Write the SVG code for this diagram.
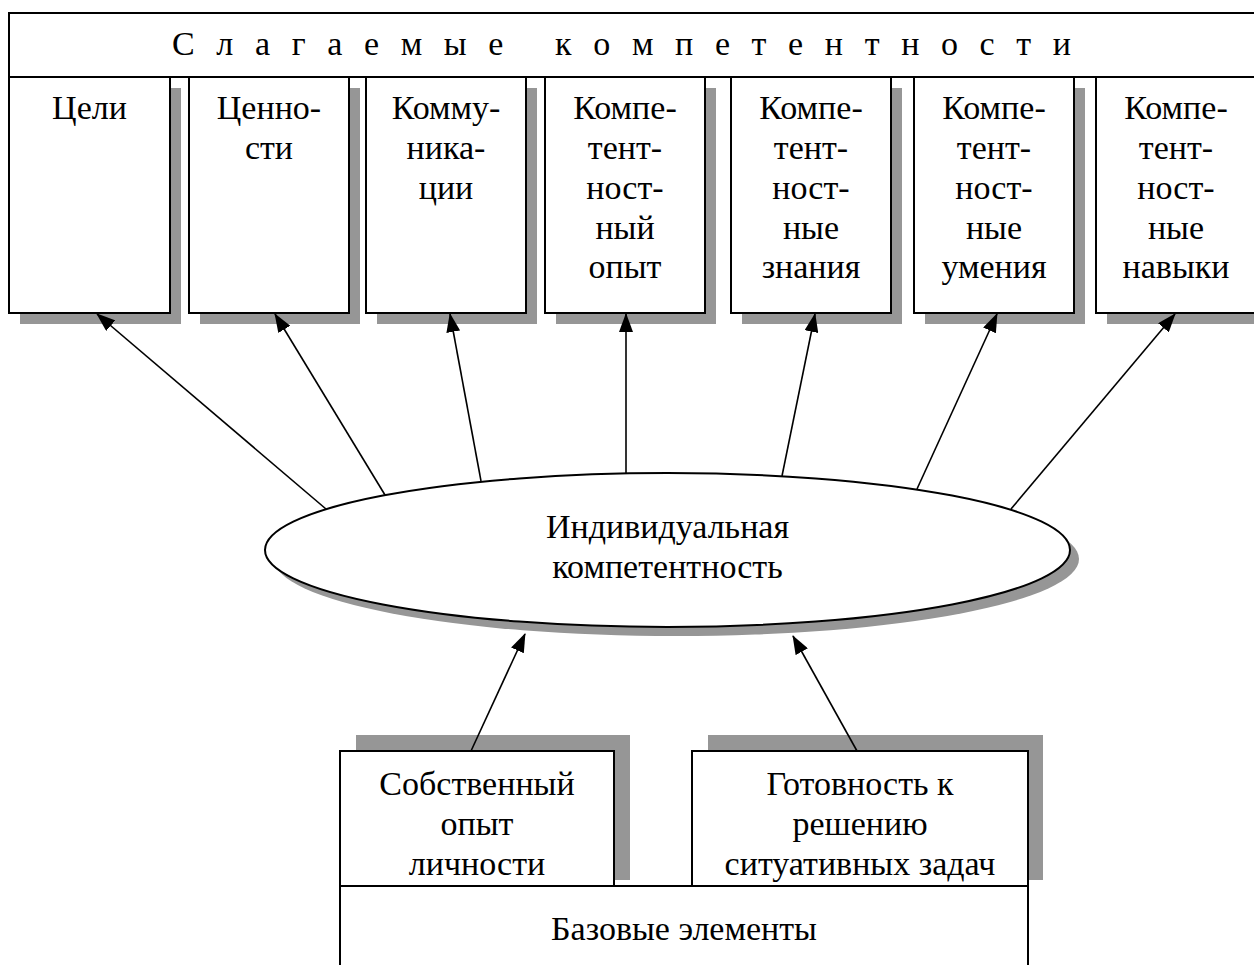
<svg xmlns="http://www.w3.org/2000/svg" width="1254" height="965" viewBox="0 0 1254 965">
<style>
.box{fill:#fff;stroke:#000;stroke-width:2}
.sh{fill:#969696;stroke:none}
.t{font-family:"Liberation Serif","Times New Roman",serif;font-size:34px;fill:#000;text-anchor:middle}
.ln{stroke:#000;stroke-width:1.6;fill:none;marker-end:url(#ah)}
</style>
<defs>
<marker id="ah" markerWidth="19" markerHeight="14" refX="18" refY="7" orient="auto" markerUnits="userSpaceOnUse">
<path d="M0,0 L19,7 L0,14 z" fill="#000"/>
</marker>
</defs>
<rect width="1254" height="965" fill="#fff"/>

<g id="header">
<rect class="box" x="9" y="13" width="1260" height="64"/>
<text class="t" x="172" y="55" style="text-anchor:start;white-space:pre" xml:space="preserve" textLength="899" lengthAdjust="spacing">С л а г а е м ы е   к о м п е т е н т н о с т и</text>
</g>

<g id="box-celi">
<rect class="sh" x="20" y="88" width="161" height="236"/>
<rect class="box" x="9" y="77" width="161" height="236"/>
<text class="t" x="89.5" y="119">Цели</text>
</g>
<g id="box-cennosti">
<rect class="sh" x="200" y="88" width="160" height="236"/>
<rect class="box" x="189" y="77" width="160" height="236"/>
<text class="t" x="269" y="119">Ценно-</text>
<text class="t" x="269" y="159">сти</text>
</g>
<g id="box-kommunikacii">
<rect class="sh" x="377" y="88" width="160" height="236"/>
<rect class="box" x="366" y="77" width="160" height="236"/>
<text class="t" x="446" y="119">Комму-</text>
<text class="t" x="446" y="159">ника-</text>
<text class="t" x="446" y="199">ции</text>
</g>
<g id="box-opyt">
<rect class="sh" x="556" y="88" width="160" height="236"/>
<rect class="box" x="545" y="77" width="160" height="236"/>
<text class="t" x="625" y="119">Компе-</text>
<text class="t" x="625" y="159">тент-</text>
<text class="t" x="625" y="199">ност-</text>
<text class="t" x="625" y="239">ный</text>
<text class="t" x="625" y="278">опыт</text>
</g>
<g id="box-znaniya">
<rect class="sh" x="742" y="88" width="160" height="236"/>
<rect class="box" x="731" y="77" width="160" height="236"/>
<text class="t" x="811" y="119">Компе-</text>
<text class="t" x="811" y="159">тент-</text>
<text class="t" x="811" y="199">ност-</text>
<text class="t" x="811" y="239">ные</text>
<text class="t" x="811" y="278">знания</text>
</g>
<g id="box-umeniya">
<rect class="sh" x="925" y="88" width="160" height="236"/>
<rect class="box" x="914" y="77" width="160" height="236"/>
<text class="t" x="994" y="119">Компе-</text>
<text class="t" x="994" y="159">тент-</text>
<text class="t" x="994" y="199">ност-</text>
<text class="t" x="994" y="239">ные</text>
<text class="t" x="994" y="278">умения</text>
</g>
<g id="box-navyki">
<rect class="sh" x="1107" y="88" width="160" height="236"/>
<rect class="box" x="1096" y="77" width="160" height="236"/>
<text class="t" x="1176" y="119">Компе-</text>
<text class="t" x="1176" y="159">тент-</text>
<text class="t" x="1176" y="199">ност-</text>
<text class="t" x="1176" y="239">ные</text>
<text class="t" x="1176" y="278">навыки</text>
</g>

<g id="ellipse-individ">
<ellipse class="sh" cx="676.5" cy="559" rx="402.5" ry="77"/>
<ellipse class="box" cx="667.5" cy="550" rx="402.5" ry="77"/>
<text class="t" x="667.5" y="538">Индивидуальная</text>
<text class="t" x="667.5" y="578">компетентность</text>
</g>

<g id="box-bazovye">
<rect class="box" x="340" y="886" width="688" height="110"/>
<text class="t" x="684" y="940">Базовые элементы</text>
</g>
<g id="box-sobstvenny">
<rect class="sh" x="356" y="735" width="274" height="145"/>
<rect class="box" x="340" y="751" width="274" height="135"/>
<text class="t" x="477" y="795">Собственный</text>
<text class="t" x="477" y="835">опыт</text>
<text class="t" x="477" y="875">личности</text>
</g>
<g id="box-gotovnost">
<rect class="sh" x="708" y="735" width="335" height="145"/>
<rect class="box" x="692" y="751" width="336" height="135"/>
<text class="t" x="860" y="795">Готовность к</text>
<text class="t" x="860" y="835">решению</text>
<text class="t" x="860" y="875">ситуативных задач</text>
</g>

<g id="connectors">
<line class="ln" x1="326" y1="509" x2="97" y2="314"/>
<line class="ln" x1="385" y1="495" x2="275" y2="314"/>
<line class="ln" x1="481" y1="481" x2="450" y2="314"/>
<line class="ln" x1="626" y1="473" x2="626" y2="314"/>
<line class="ln" x1="782" y1="476" x2="815" y2="314"/>
<line class="ln" x1="917" y1="489" x2="997" y2="314"/>
<line class="ln" x1="1011" y1="509" x2="1175" y2="314"/>
<line class="ln" x1="471" y1="751" x2="525" y2="634"/>
<line class="ln" x1="857" y1="751" x2="793" y2="636"/>
</g>
</svg>
